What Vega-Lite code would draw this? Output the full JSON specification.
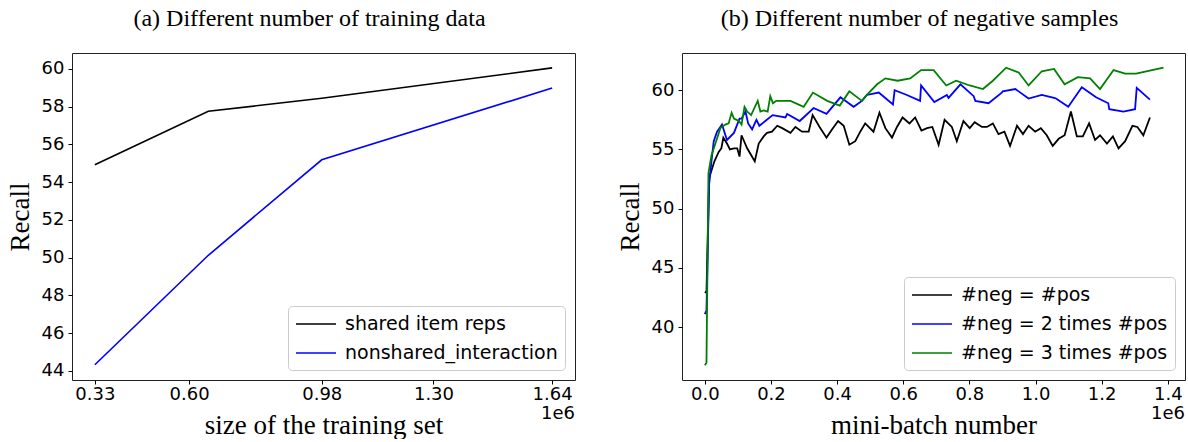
{
  "$schema": "https://vega.github.io/schema/vega-lite/v6.json",
  "background": "white",
  "padding": {"left": 5, "top": 6, "right": 2, "bottom": 0},
  "spacing": 39,
  "config": {
    "view": {"stroke": "#222", "strokeWidth": 1},
    "axis": {"domain": false, "grid": false, "tickColor": "#000", "tickSize": 4, "labelFont": "DejaVu Sans", "labelFontSize": 18, "labelColor": "#000", "titleFont": "Liberation Serif", "titleFontSize": 27, "titleFontWeight": "normal", "titleColor": "#000"},
    "axisX": {"labelPadding": 1, "titlePadding": 9},
    "axisY": {"labelPadding": 4, "titlePadding": 7},
    "legend": {"orient": "bottom-right", "offset": 10, "title": null, "labelFont": "DejaVu Sans", "labelFontSize": 19, "labelColor": "#000", "symbolType": "M-2,0H2", "symbolSize": 400, "symbolOffset": 10, "symbolStrokeWidth": 1.6, "labelOffset": 18, "rowPadding": 8, "padding": 7, "strokeColor": "#cccccc", "fillColor": "white", "cornerRadius": 4, "labelLimit": 400},
    "title": {"font": "Liberation Serif", "fontSize": 24, "fontWeight": "normal", "color": "#000", "offset": 22, "dx": -14}
  },
  "resolve": {"scale": {"color": "independent"}},
  "hconcat": [
    {
      "title": "(a) Different number of training data",
      "width": 503,
      "height": 327,
      "layer": [
        {
          "data": {"values": [
            {"model": "shared item reps", "size_1e6": 0.33, "recall": 54.92},
            {"model": "shared item reps", "size_1e6": 0.655, "recall": 57.75},
            {"model": "shared item reps", "size_1e6": 0.98, "recall": 58.44},
            {"model": "shared item reps", "size_1e6": 1.64, "recall": 60.05},
            {"model": "nonshared_interaction", "size_1e6": 0.33, "recall": 44.32},
            {"model": "nonshared_interaction", "size_1e6": 0.655, "recall": 50.12},
            {"model": "nonshared_interaction", "size_1e6": 0.98, "recall": 55.18},
            {"model": "nonshared_interaction", "size_1e6": 1.64, "recall": 58.98}
          ]},
          "mark": {"type": "line", "strokeWidth": 1.6},
          "encoding": {
            "x": {"field": "size_1e6", "type": "quantitative", "scale": {"domain": [0.2645, 1.7055], "nice": false, "zero": false}, "axis": {"values": [0.33, 0.60, 0.98, 1.30, 1.64], "format": ".2f", "title": "size of the training set"}},
            "y": {"field": "recall", "type": "quantitative", "scale": {"domain": [43.51, 60.84], "nice": false, "zero": false}, "axis": {"values": [44, 46, 48, 50, 52, 54, 56, 58, 60], "title": "Recall"}},
            "color": {"field": "model", "type": "nominal", "scale": {"domain": ["shared item reps", "nonshared_interaction"], "range": ["#000000", "#0000ff"]}, "legend": {"title": null}}
          }
        },
        {
          "data": {"values": [{"label": "1e6"}]},
          "mark": {"type": "text", "font": "DejaVu Sans", "fontSize": 18, "align": "right", "baseline": "top", "dy": 25, "color": "#000"},
          "encoding": {"text": {"field": "label"}, "x": {"datum": 1.7055}, "y": {"datum": 43.51}}
        }
      ]
    },
    {
      "title": "(b) Different number of negative samples",
      "width": 503,
      "height": 327,
      "layer": [
        {
          "data": {"values": [
            {"series": "#neg = #pos", "batch_1e6": 0.000, "recall": 43.0},
            {"series": "#neg = #pos", "batch_1e6": 0.005, "recall": 42.9},
            {"series": "#neg = #pos", "batch_1e6": 0.013, "recall": 52.6},
            {"series": "#neg = #pos", "batch_1e6": 0.029, "recall": 54.0},
            {"series": "#neg = #pos", "batch_1e6": 0.042, "recall": 54.8},
            {"series": "#neg = #pos", "batch_1e6": 0.050, "recall": 55.1},
            {"series": "#neg = #pos", "batch_1e6": 0.056, "recall": 56.0},
            {"series": "#neg = #pos", "batch_1e6": 0.067, "recall": 55.5},
            {"series": "#neg = #pos", "batch_1e6": 0.076, "recall": 55.0},
            {"series": "#neg = #pos", "batch_1e6": 0.088, "recall": 55.1},
            {"series": "#neg = #pos", "batch_1e6": 0.098, "recall": 55.1},
            {"series": "#neg = #pos", "batch_1e6": 0.105, "recall": 54.4},
            {"series": "#neg = #pos", "batch_1e6": 0.111, "recall": 56.2},
            {"series": "#neg = #pos", "batch_1e6": 0.128, "recall": 55.1},
            {"series": "#neg = #pos", "batch_1e6": 0.151, "recall": 54.0},
            {"series": "#neg = #pos", "batch_1e6": 0.163, "recall": 55.5},
            {"series": "#neg = #pos", "batch_1e6": 0.178, "recall": 56.1},
            {"series": "#neg = #pos", "batch_1e6": 0.188, "recall": 56.4},
            {"series": "#neg = #pos", "batch_1e6": 0.203, "recall": 56.5},
            {"series": "#neg = #pos", "batch_1e6": 0.219, "recall": 57.0},
            {"series": "#neg = #pos", "batch_1e6": 0.234, "recall": 56.8},
            {"series": "#neg = #pos", "batch_1e6": 0.259, "recall": 56.4},
            {"series": "#neg = #pos", "batch_1e6": 0.274, "recall": 56.9},
            {"series": "#neg = #pos", "batch_1e6": 0.294, "recall": 56.5},
            {"series": "#neg = #pos", "batch_1e6": 0.314, "recall": 56.5},
            {"series": "#neg = #pos", "batch_1e6": 0.326, "recall": 57.9},
            {"series": "#neg = #pos", "batch_1e6": 0.347, "recall": 56.9},
            {"series": "#neg = #pos", "batch_1e6": 0.368, "recall": 56.0},
            {"series": "#neg = #pos", "batch_1e6": 0.385, "recall": 56.7},
            {"series": "#neg = #pos", "batch_1e6": 0.403, "recall": 57.4},
            {"series": "#neg = #pos", "batch_1e6": 0.420, "recall": 57.0},
            {"series": "#neg = #pos", "batch_1e6": 0.437, "recall": 55.4},
            {"series": "#neg = #pos", "batch_1e6": 0.455, "recall": 55.7},
            {"series": "#neg = #pos", "batch_1e6": 0.470, "recall": 56.5},
            {"series": "#neg = #pos", "batch_1e6": 0.485, "recall": 57.2},
            {"series": "#neg = #pos", "batch_1e6": 0.510, "recall": 56.5},
            {"series": "#neg = #pos", "batch_1e6": 0.528, "recall": 58.1},
            {"series": "#neg = #pos", "batch_1e6": 0.546, "recall": 56.8},
            {"series": "#neg = #pos", "batch_1e6": 0.566, "recall": 56.0},
            {"series": "#neg = #pos", "batch_1e6": 0.581, "recall": 56.9},
            {"series": "#neg = #pos", "batch_1e6": 0.598, "recall": 57.7},
            {"series": "#neg = #pos", "batch_1e6": 0.619, "recall": 57.2},
            {"series": "#neg = #pos", "batch_1e6": 0.636, "recall": 57.7},
            {"series": "#neg = #pos", "batch_1e6": 0.655, "recall": 56.6},
            {"series": "#neg = #pos", "batch_1e6": 0.672, "recall": 56.8},
            {"series": "#neg = #pos", "batch_1e6": 0.688, "recall": 56.9},
            {"series": "#neg = #pos", "batch_1e6": 0.707, "recall": 55.4},
            {"series": "#neg = #pos", "batch_1e6": 0.725, "recall": 57.5},
            {"series": "#neg = #pos", "batch_1e6": 0.747, "recall": 56.9},
            {"series": "#neg = #pos", "batch_1e6": 0.762, "recall": 55.7},
            {"series": "#neg = #pos", "batch_1e6": 0.782, "recall": 57.4},
            {"series": "#neg = #pos", "batch_1e6": 0.801, "recall": 56.8},
            {"series": "#neg = #pos", "batch_1e6": 0.816, "recall": 57.3},
            {"series": "#neg = #pos", "batch_1e6": 0.838, "recall": 56.9},
            {"series": "#neg = #pos", "batch_1e6": 0.853, "recall": 56.9},
            {"series": "#neg = #pos", "batch_1e6": 0.871, "recall": 57.2},
            {"series": "#neg = #pos", "batch_1e6": 0.888, "recall": 56.3},
            {"series": "#neg = #pos", "batch_1e6": 0.906, "recall": 56.5},
            {"series": "#neg = #pos", "batch_1e6": 0.923, "recall": 55.3},
            {"series": "#neg = #pos", "batch_1e6": 0.944, "recall": 57.0},
            {"series": "#neg = #pos", "batch_1e6": 0.962, "recall": 56.3},
            {"series": "#neg = #pos", "batch_1e6": 0.979, "recall": 57.0},
            {"series": "#neg = #pos", "batch_1e6": 0.999, "recall": 56.5},
            {"series": "#neg = #pos", "batch_1e6": 1.016, "recall": 56.8},
            {"series": "#neg = #pos", "batch_1e6": 1.034, "recall": 56.2},
            {"series": "#neg = #pos", "batch_1e6": 1.052, "recall": 55.3},
            {"series": "#neg = #pos", "batch_1e6": 1.070, "recall": 55.9},
            {"series": "#neg = #pos", "batch_1e6": 1.088, "recall": 56.2},
            {"series": "#neg = #pos", "batch_1e6": 1.107, "recall": 58.2},
            {"series": "#neg = #pos", "batch_1e6": 1.125, "recall": 56.1},
            {"series": "#neg = #pos", "batch_1e6": 1.143, "recall": 56.1},
            {"series": "#neg = #pos", "batch_1e6": 1.162, "recall": 57.2},
            {"series": "#neg = #pos", "batch_1e6": 1.180, "recall": 55.8},
            {"series": "#neg = #pos", "batch_1e6": 1.195, "recall": 56.2},
            {"series": "#neg = #pos", "batch_1e6": 1.216, "recall": 55.5},
            {"series": "#neg = #pos", "batch_1e6": 1.234, "recall": 56.1},
            {"series": "#neg = #pos", "batch_1e6": 1.251, "recall": 55.1},
            {"series": "#neg = #pos", "batch_1e6": 1.271, "recall": 55.7},
            {"series": "#neg = #pos", "batch_1e6": 1.293, "recall": 57.0},
            {"series": "#neg = #pos", "batch_1e6": 1.308, "recall": 56.9},
            {"series": "#neg = #pos", "batch_1e6": 1.326, "recall": 56.2},
            {"series": "#neg = #pos", "batch_1e6": 1.346, "recall": 57.7},
            {"series": "#neg = 2 times #pos", "batch_1e6": 0.000, "recall": 41.1},
            {"series": "#neg = 2 times #pos", "batch_1e6": 0.005, "recall": 41.4},
            {"series": "#neg = 2 times #pos", "batch_1e6": 0.013, "recall": 52.0},
            {"series": "#neg = 2 times #pos", "batch_1e6": 0.020, "recall": 54.0},
            {"series": "#neg = 2 times #pos", "batch_1e6": 0.027, "recall": 55.7},
            {"series": "#neg = 2 times #pos", "batch_1e6": 0.037, "recall": 56.5},
            {"series": "#neg = 2 times #pos", "batch_1e6": 0.052, "recall": 57.1},
            {"series": "#neg = 2 times #pos", "batch_1e6": 0.067, "recall": 55.8},
            {"series": "#neg = 2 times #pos", "batch_1e6": 0.088, "recall": 56.4},
            {"series": "#neg = 2 times #pos", "batch_1e6": 0.105, "recall": 57.6},
            {"series": "#neg = 2 times #pos", "batch_1e6": 0.111, "recall": 57.6},
            {"series": "#neg = 2 times #pos", "batch_1e6": 0.123, "recall": 58.2},
            {"series": "#neg = 2 times #pos", "batch_1e6": 0.131, "recall": 57.2},
            {"series": "#neg = 2 times #pos", "batch_1e6": 0.143, "recall": 56.7},
            {"series": "#neg = 2 times #pos", "batch_1e6": 0.156, "recall": 57.5},
            {"series": "#neg = 2 times #pos", "batch_1e6": 0.165, "recall": 57.0},
            {"series": "#neg = 2 times #pos", "batch_1e6": 0.183, "recall": 57.4},
            {"series": "#neg = 2 times #pos", "batch_1e6": 0.205, "recall": 57.9},
            {"series": "#neg = 2 times #pos", "batch_1e6": 0.244, "recall": 57.7},
            {"series": "#neg = 2 times #pos", "batch_1e6": 0.249, "recall": 58.0},
            {"series": "#neg = 2 times #pos", "batch_1e6": 0.287, "recall": 57.4},
            {"series": "#neg = 2 times #pos", "batch_1e6": 0.329, "recall": 58.5},
            {"series": "#neg = 2 times #pos", "batch_1e6": 0.368, "recall": 58.0},
            {"series": "#neg = 2 times #pos", "batch_1e6": 0.410, "recall": 59.4},
            {"series": "#neg = 2 times #pos", "batch_1e6": 0.450, "recall": 58.6},
            {"series": "#neg = 2 times #pos", "batch_1e6": 0.475, "recall": 59.1},
            {"series": "#neg = 2 times #pos", "batch_1e6": 0.490, "recall": 59.6},
            {"series": "#neg = 2 times #pos", "batch_1e6": 0.526, "recall": 59.8},
            {"series": "#neg = 2 times #pos", "batch_1e6": 0.569, "recall": 58.8},
            {"series": "#neg = 2 times #pos", "batch_1e6": 0.574, "recall": 60.0},
            {"series": "#neg = 2 times #pos", "batch_1e6": 0.611, "recall": 59.6},
            {"series": "#neg = 2 times #pos", "batch_1e6": 0.651, "recall": 59.1},
            {"series": "#neg = 2 times #pos", "batch_1e6": 0.654, "recall": 60.4},
            {"series": "#neg = 2 times #pos", "batch_1e6": 0.694, "recall": 59.0},
            {"series": "#neg = 2 times #pos", "batch_1e6": 0.732, "recall": 59.6},
            {"series": "#neg = 2 times #pos", "batch_1e6": 0.737, "recall": 59.35},
            {"series": "#neg = 2 times #pos", "batch_1e6": 0.773, "recall": 60.5},
            {"series": "#neg = 2 times #pos", "batch_1e6": 0.813, "recall": 59.5},
            {"series": "#neg = 2 times #pos", "batch_1e6": 0.818, "recall": 59.1},
            {"series": "#neg = 2 times #pos", "batch_1e6": 0.858, "recall": 58.9},
            {"series": "#neg = 2 times #pos", "batch_1e6": 0.898, "recall": 59.8},
            {"series": "#neg = 2 times #pos", "batch_1e6": 0.901, "recall": 59.9},
            {"series": "#neg = 2 times #pos", "batch_1e6": 0.939, "recall": 60.1},
            {"series": "#neg = 2 times #pos", "batch_1e6": 0.979, "recall": 59.3},
            {"series": "#neg = 2 times #pos", "batch_1e6": 1.019, "recall": 59.6},
            {"series": "#neg = 2 times #pos", "batch_1e6": 1.056, "recall": 59.35},
            {"series": "#neg = 2 times #pos", "batch_1e6": 1.062, "recall": 59.3},
            {"series": "#neg = 2 times #pos", "batch_1e6": 1.099, "recall": 58.6},
            {"series": "#neg = 2 times #pos", "batch_1e6": 1.140, "recall": 60.25},
            {"series": "#neg = 2 times #pos", "batch_1e6": 1.183, "recall": 59.4},
            {"series": "#neg = 2 times #pos", "batch_1e6": 1.220, "recall": 58.9},
            {"series": "#neg = 2 times #pos", "batch_1e6": 1.223, "recall": 58.4},
            {"series": "#neg = 2 times #pos", "batch_1e6": 1.266, "recall": 58.2},
            {"series": "#neg = 2 times #pos", "batch_1e6": 1.301, "recall": 58.4},
            {"series": "#neg = 2 times #pos", "batch_1e6": 1.306, "recall": 60.2},
            {"series": "#neg = 2 times #pos", "batch_1e6": 1.346, "recall": 59.2},
            {"series": "#neg = 3 times #pos", "batch_1e6": 0.000, "recall": 36.8},
            {"series": "#neg = 3 times #pos", "batch_1e6": 0.005, "recall": 37.0},
            {"series": "#neg = 3 times #pos", "batch_1e6": 0.011, "recall": 53.0},
            {"series": "#neg = 3 times #pos", "batch_1e6": 0.020, "recall": 54.5},
            {"series": "#neg = 3 times #pos", "batch_1e6": 0.032, "recall": 55.5},
            {"series": "#neg = 3 times #pos", "batch_1e6": 0.047, "recall": 56.8},
            {"series": "#neg = 3 times #pos", "batch_1e6": 0.062, "recall": 57.1},
            {"series": "#neg = 3 times #pos", "batch_1e6": 0.072, "recall": 57.2},
            {"series": "#neg = 3 times #pos", "batch_1e6": 0.081, "recall": 58.1},
            {"series": "#neg = 3 times #pos", "batch_1e6": 0.088, "recall": 57.6},
            {"series": "#neg = 3 times #pos", "batch_1e6": 0.103, "recall": 57.4},
            {"series": "#neg = 3 times #pos", "batch_1e6": 0.111, "recall": 57.1},
            {"series": "#neg = 3 times #pos", "batch_1e6": 0.120, "recall": 58.6},
            {"series": "#neg = 3 times #pos", "batch_1e6": 0.128, "recall": 58.2},
            {"series": "#neg = 3 times #pos", "batch_1e6": 0.140, "recall": 57.9},
            {"series": "#neg = 3 times #pos", "batch_1e6": 0.160, "recall": 59.1},
            {"series": "#neg = 3 times #pos", "batch_1e6": 0.168, "recall": 58.2},
            {"series": "#neg = 3 times #pos", "batch_1e6": 0.178, "recall": 58.3},
            {"series": "#neg = 3 times #pos", "batch_1e6": 0.190, "recall": 58.2},
            {"series": "#neg = 3 times #pos", "batch_1e6": 0.198, "recall": 59.5},
            {"series": "#neg = 3 times #pos", "batch_1e6": 0.206, "recall": 58.9},
            {"series": "#neg = 3 times #pos", "batch_1e6": 0.216, "recall": 59.1},
            {"series": "#neg = 3 times #pos", "batch_1e6": 0.259, "recall": 59.1},
            {"series": "#neg = 3 times #pos", "batch_1e6": 0.299, "recall": 58.6},
            {"series": "#neg = 3 times #pos", "batch_1e6": 0.327, "recall": 59.8},
            {"series": "#neg = 3 times #pos", "batch_1e6": 0.370, "recall": 59.1},
            {"series": "#neg = 3 times #pos", "batch_1e6": 0.408, "recall": 58.7},
            {"series": "#neg = 3 times #pos", "batch_1e6": 0.437, "recall": 59.9},
            {"series": "#neg = 3 times #pos", "batch_1e6": 0.475, "recall": 59.1},
            {"series": "#neg = 3 times #pos", "batch_1e6": 0.490, "recall": 59.6},
            {"series": "#neg = 3 times #pos", "batch_1e6": 0.521, "recall": 60.5},
            {"series": "#neg = 3 times #pos", "batch_1e6": 0.546, "recall": 61.0},
            {"series": "#neg = 3 times #pos", "batch_1e6": 0.583, "recall": 60.8},
            {"series": "#neg = 3 times #pos", "batch_1e6": 0.621, "recall": 61.0},
            {"series": "#neg = 3 times #pos", "batch_1e6": 0.654, "recall": 61.7},
            {"series": "#neg = 3 times #pos", "batch_1e6": 0.692, "recall": 61.7},
            {"series": "#neg = 3 times #pos", "batch_1e6": 0.730, "recall": 60.4},
            {"series": "#neg = 3 times #pos", "batch_1e6": 0.760, "recall": 60.8},
            {"series": "#neg = 3 times #pos", "batch_1e6": 0.801, "recall": 60.4},
            {"series": "#neg = 3 times #pos", "batch_1e6": 0.841, "recall": 60.1},
            {"series": "#neg = 3 times #pos", "batch_1e6": 0.871, "recall": 60.8},
            {"series": "#neg = 3 times #pos", "batch_1e6": 0.911, "recall": 61.9},
            {"series": "#neg = 3 times #pos", "batch_1e6": 0.949, "recall": 61.5},
            {"series": "#neg = 3 times #pos", "batch_1e6": 0.979, "recall": 60.4},
            {"series": "#neg = 3 times #pos", "batch_1e6": 1.019, "recall": 61.6},
            {"series": "#neg = 3 times #pos", "batch_1e6": 1.056, "recall": 61.8},
            {"series": "#neg = 3 times #pos", "batch_1e6": 1.088, "recall": 60.5},
            {"series": "#neg = 3 times #pos", "batch_1e6": 1.128, "recall": 61.1},
            {"series": "#neg = 3 times #pos", "batch_1e6": 1.165, "recall": 61.0},
            {"series": "#neg = 3 times #pos", "batch_1e6": 1.195, "recall": 60.1},
            {"series": "#neg = 3 times #pos", "batch_1e6": 1.236, "recall": 61.7},
            {"series": "#neg = 3 times #pos", "batch_1e6": 1.271, "recall": 61.4},
            {"series": "#neg = 3 times #pos", "batch_1e6": 1.304, "recall": 61.4},
            {"series": "#neg = 3 times #pos", "batch_1e6": 1.387, "recall": 61.9}
          ]},
          "mark": {"type": "line", "strokeWidth": 1.8},
          "encoding": {
            "x": {"field": "batch_1e6", "type": "quantitative", "scale": {"domain": [-0.069, 1.452], "nice": false, "zero": false}, "axis": {"values": [0, 0.2, 0.4, 0.6, 0.8, 1.0, 1.2, 1.4], "format": ".1f", "title": "mini-batch number"}},
            "y": {"field": "recall", "type": "quantitative", "scale": {"domain": [35.55, 63.14], "nice": false, "zero": false}, "axis": {"values": [40, 45, 50, 55, 60], "title": "Recall"}},
            "color": {"field": "series", "type": "nominal", "scale": {"domain": ["#neg = #pos", "#neg = 2 times #pos", "#neg = 3 times #pos"], "range": ["#000000", "#0000ff", "#008000"]}, "legend": {"title": null}}
          }
        },
        {
          "data": {"values": [{"label": "1e6"}]},
          "mark": {"type": "text", "font": "DejaVu Sans", "fontSize": 18, "align": "right", "baseline": "top", "dy": 25, "color": "#000"},
          "encoding": {"text": {"field": "label"}, "x": {"datum": 1.452}, "y": {"datum": 35.55}}
        }
      ]
    }
  ]
}
